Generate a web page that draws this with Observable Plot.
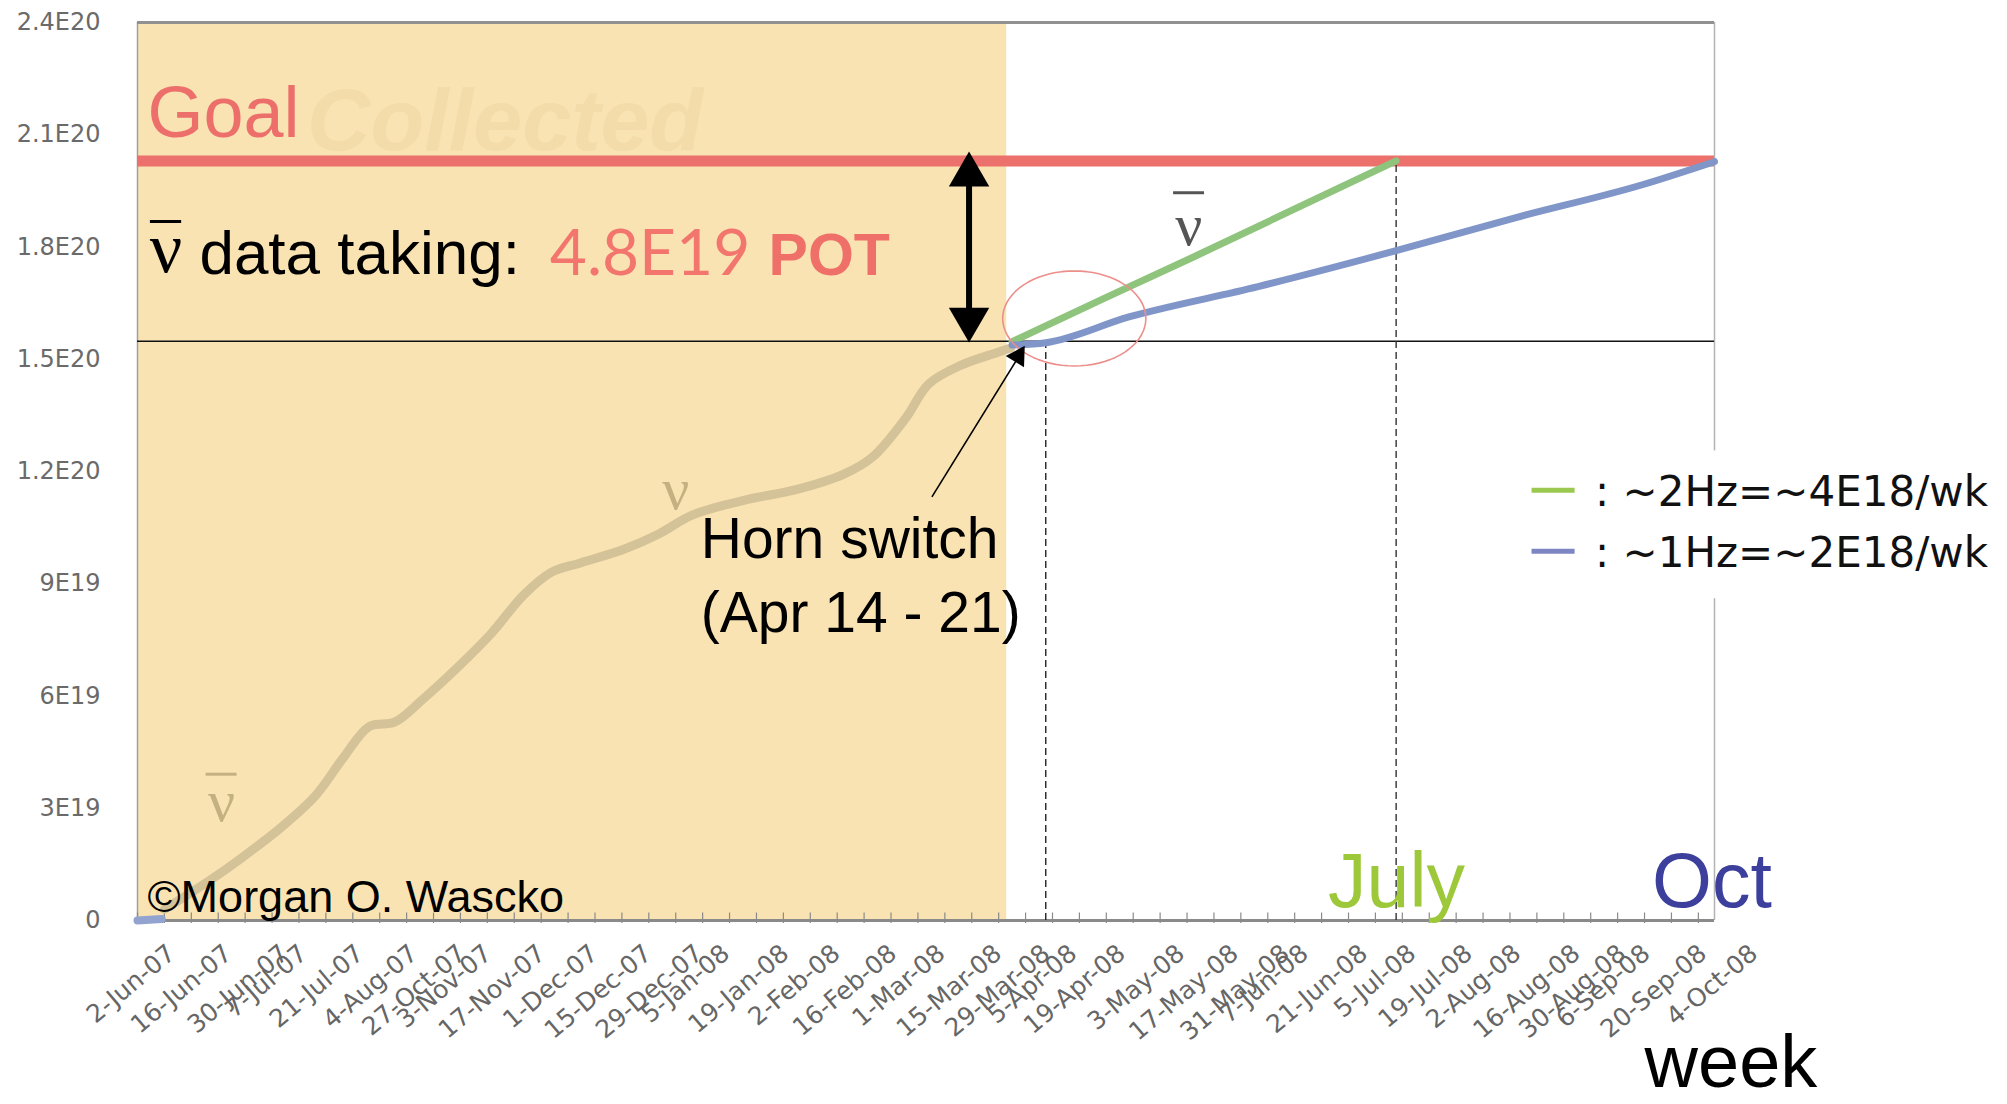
<!DOCTYPE html>
<html>
<head>
<meta charset="utf-8">
<script src="https://cdn.jsdelivr.net/npm/d3@7"></script>
<script src="https://cdn.jsdelivr.net/npm/@observablehq/plot@0.6"></script>
<style>
  html, body { margin: 0; padding: 0; background: #ffffff; }
  #chart svg { display: block; }
</style>
</head>
<body>
<div id="chart"></div>
<script>
// ---------------- Data (POT in units of 1E20, x = running week index) ----------------
const yTickValues = [0, 0.3, 0.6, 0.9, 1.2, 1.5, 1.8, 2.1, 2.4];
const yTickLabels = ["0", "3E19", "6E19", "9E19", "1.2E20", "1.5E20", "1.8E20", "2.1E20", "2.4E20"];

const xTickWeeks = [0, 2.1, 4.2, 4.9, 7.0, 9.0, 10.8, 11.75, 13.75, 15.7, 17.7, 19.6, 20.6, 22.8, 24.7, 26.8,
  28.6, 30.7, 32.5, 33.5, 35.3, 37.5, 39.5, 41.4, 42.1, 44.3, 46.1, 48.2, 50.0, 52.2, 53.9, 54.8, 56.9, 58.8];
const xTickLabels = ["2-Jun-07", "16-Jun-07", "30-Jun-07", "7-Jul-07", "21-Jul-07", "4-Aug-07", "27-Oct-07",
  "3-Nov-07", "17-Nov-07", "1-Dec-07", "15-Dec-07", "29-Dec-07", "5-Jan-08", "19-Jan-08", "2-Feb-08",
  "16-Feb-08", "1-Mar-08", "15-Mar-08", "29-Mar-08", "5-Apr-08", "19-Apr-08", "3-May-08", "17-May-08",
  "31-May-08", "7-Jun-08", "21-Jun-08", "5-Jul-08", "19-Jul-08", "2-Aug-08", "16-Aug-08", "30-Aug-08",
  "6-Sep-08", "20-Sep-08", "4-Oct-08"];
const minorWeeks = d3.range(0, 59);

// collected neutrino-mode POT (cumulative)
const nuWeek = [1.0, 2.68, 3.9, 5.39, 6.62, 7.66, 8.62, 9.55, 10.6, 11.86, 13.12, 14.35, 15.39, 16.43,
  18.1, 19.37, 20.63, 22.71, 24.39, 26.25, 27.32, 28.55, 29.4, 30.63, 31.9, 32.45];
const nuPOT = [0.03, 0.107, 0.169, 0.252, 0.334, 0.436, 0.519, 0.530, 0.591, 0.674, 0.765, 0.870, 0.931,
  0.955, 0.993, 1.033, 1.084, 1.126, 1.150, 1.193, 1.239, 1.343, 1.434, 1.485, 1.517, 1.53];

// early antineutrino bit
const antiStartWeek = [0, 0.9];
const antiStartPOT = [0.0, 0.004];

// projections
const greenWeek = [32.5, 35.9, 39.26, 46.77];
const greenPOT = [1.547, 1.662, 1.774, 2.03];
const blueWeek = [32.5, 33.75, 36.84, 41.64, 46.77, 51.19, 55.95, 58.6];
const bluePOT = [1.538, 1.544, 1.613, 1.694, 1.790, 1.878, 1.967, 2.028];

const goalPOT = 2.03;
const collectedPOT = 1.548;
const collectedEndWeek = 32.3;
const switchWeek = 33.75;
const julyWeek = 46.77;
const arrowWeek = 30.9;

const legendItems = [": ~2Hz=~4E18/wk", ": ~1Hz=~2E18/wk"];
const legendColors = ["#9bc84e", "#7d86c2"];

// ---------------- Build ----------------
const xMax = 58.6, yMax = 2.4;
const pts = (xs, ys) => xs.map((x, i) => ({x, y: ys[i]}));
const xTicks = xTickLabels.map((label, i) => ({week: xTickWeeks[i], label}));
const ellipse = d3.range(0, 361, 5).map(a => ({
  x: 34.81 + 2.66 * Math.cos(a * Math.PI / 180),
  y: 1.609 + 0.127 * Math.sin(a * Math.PI / 180)
}));
const SANS = "'Liberation Sans', Arial, Helvetica, sans-serif";
const WIDE = "'DejaVu Sans', 'Liberation Sans', sans-serif";
const SERIF = "'Liberation Serif', 'Times New Roman', serif";
const T = (s, o) => Plot.text([s], {text: d => d, ...o});
// nu-bar glyph: nu letter plus an overbar
const nuBar = (x, y, x1, x2, yb, size, color) => [
  T("\u03BD", {x, y, textAnchor: "middle", lineAnchor: "bottom", fontSize: size, fontFamily: SERIF, fill: color}),
  Plot.ruleY([yb], {x1, x2, stroke: color, strokeWidth: 3})
];

const chart = Plot.plot({
  width: 2007,
  height: 1104,
  marginLeft: 137,
  marginRight: 293,
  marginTop: 22,
  marginBottom: 184,
  x: {domain: [0, xMax], axis: null},
  y: {domain: [0, yMax], axis: null},
  style: {fontFamily: SANS, background: "#ffffff", overflow: "visible"},
  marks: [
    Plot.rect([0], {x1: 0, x2: collectedEndWeek, y1: 0, y2: yMax, fill: "#f9e3b2"}),
    T("Collected", {x: 6.3, y: 2.06, textAnchor: "start", lineAnchor: "bottom", fontSize: 88,
      fontWeight: "bold", fontStyle: "italic", fill: "#f3dbaa"}),

    // frame
    Plot.ruleX([0], {stroke: "#a0a0a0", strokeWidth: 1.5}),
    Plot.ruleX([xMax], {stroke: "#b3b3b3", strokeWidth: 1.5}),
    Plot.ruleY([yMax], {stroke: "#919191", strokeWidth: 3}),
    Plot.ruleY([0], {stroke: "#8a8a8a", strokeWidth: 3}),
    Plot.ruleX(minorWeeks, {x: d => d, y1: -0.008, y2: 0.02, stroke: "#8a8a8a", strokeWidth: 1.2}),

    // axes
    Plot.axisY(yTickValues, {anchor: "left", label: null, tickSize: 0, tickPadding: 37, fontSize: 24,
      fontFamily: WIDE, fill: "#6a6a6a", tickFormat: d => yTickLabels[yTickValues.indexOf(d)]}),
    Plot.text(xTicks, {x: "week", y: 0, text: "label", rotate: -40, textAnchor: "end", lineAnchor: "top",
      dx: 28, dy: 22, fontSize: 25, fontFamily: WIDE, fill: "#666666"}),

    // reference lines
    Plot.ruleY([goalPOT], {stroke: "#ec706b", strokeWidth: 11}),
    Plot.ruleY([collectedPOT], {stroke: "#111111", strokeWidth: 1.6}),
    Plot.ruleX([switchWeek], {y1: 0, y2: collectedPOT, stroke: "#222", strokeWidth: 1.4, strokeDasharray: "7,4"}),
    Plot.ruleX([julyWeek], {y1: 0, y2: goalPOT, stroke: "#333", strokeWidth: 1.4, strokeDasharray: "7,4"}),

    // curves
    Plot.line(pts(antiStartWeek, antiStartPOT), {x: "x", y: "y", stroke: "#93a3cf", strokeWidth: 8}),
    Plot.line(pts(nuWeek, nuPOT), {x: "x", y: "y", stroke: "#d4c298", strokeWidth: 9, curve: "catmull-rom"}),
    Plot.line(pts(greenWeek, greenPOT), {x: "x", y: "y", stroke: "#8fc47c", strokeWidth: 7}),
    Plot.line(pts(blueWeek, bluePOT), {x: "x", y: "y", stroke: "#8096c9", strokeWidth: 7, curve: "monotone-x"}),

    // red circle
    Plot.line(ellipse, {x: "x", y: "y", stroke: "#ec8f8b", strokeWidth: 1.6}),

    // double arrow
    Plot.ruleX([arrowWeek], {y1: goalPOT, y2: collectedPOT, stroke: "#000", strokeWidth: 6, insetTop: 22, insetBottom: 24}),
    Plot.dot([arrowWeek], {x: d => d, y: goalPOT, symbol: "triangle", r: 15, fill: "#000", stroke: null, dy: 14}),
    Plot.dot([arrowWeek], {x: d => d, y: collectedPOT, symbol: "triangle", r: 15, fill: "#000", stroke: null, rotate: 180, dy: -22}),

    // horn switch arrow
    Plot.link([0], {x1: 29.52, y1: 1.132, x2: 32.9, y2: 1.525, stroke: "#000", strokeWidth: 1.6}),
    Plot.dot([0], {x: 32.97, y: 1.536, symbol: "triangle", r: 8, fill: "#000", stroke: null, rotate: 32, dx: -6.6, dy: 10.6}),

    // text annotations
    T("Goal", {x: 0.37, y: 2.095, textAnchor: "start", lineAnchor: "bottom", fontSize: 72, fill: "#ec6f6b"}),
    ...nuBar(1.06, 1.734, 0.48, 1.64, 1.868, 72, "#000000"),
    T("data taking:", {x: 2.3, y: 1.728, textAnchor: "start", lineAnchor: "bottom", fontSize: 62, fill: "#000"}),
    T("4.8E19", {x: 15.32, y: 1.726, textAnchor: "start", lineAnchor: "bottom", fontSize: 64,
      fontFamily: "Lato, 'Open Sans', sans-serif", fill: "#f2766e"}),
    T("POT", {x: 23.45, y: 1.726, textAnchor: "start", lineAnchor: "bottom", fontSize: 59,
      fontWeight: "bold", fill: "#ef7068"}),
    ...nuBar(3.12, 0.265, 2.55, 3.7, 0.391, 60, "#c4b181"),
    T("\u03BD", {x: 20.0, y: 1.150, textAnchor: "middle", lineAnchor: "middle", fontSize: 60,
      fontFamily: SERIF, fill: "#c4b181"}),
    ...nuBar(39.07, 1.805, 38.5, 39.65, 1.945, 60, "#555555"),
    T("Horn switch\n(Apr 14 - 21)", {x: 20.93, y: 0.771, textAnchor: "start", lineAnchor: "bottom",
      lineHeight: 1.3, fontSize: 57, fill: "#000"}),
    T("\u00A9Morgan O. Wascko", {x: 0.37, y: 0.024, textAnchor: "start", lineAnchor: "bottom", fontSize: 45, fill: "#000"}),
    T("July", {x: 44.24, y: 0.037, textAnchor: "start", lineAnchor: "bottom", fontSize: 77, fill: "#9cc83a"}),
    T("Oct", {x: 56.28, y: 0.037, textAnchor: "start", lineAnchor: "bottom", fontSize: 77, fill: "#3c409c"}),
    T("week", {x: 56.0, y: -0.444, textAnchor: "start", lineAnchor: "bottom", fontSize: 74, fill: "#000"}),

    // legend
    Plot.rect([0], {x1: 50.9, x2: 69.5, y1: 0.86, y2: 1.255, fill: "#ffffff"}),
    Plot.ruleY([1.150], {x1: 51.82, x2: 53.42, stroke: legendColors[0], strokeWidth: 5}),
    Plot.ruleY([0.987], {x1: 51.82, x2: 53.42, stroke: legendColors[1], strokeWidth: 5}),
    T(legendItems[0], {x: 54.16, y: 1.108, textAnchor: "start", lineAnchor: "bottom", fontSize: 42,
      fontFamily: WIDE, fill: "#111"}),
    T(legendItems[1], {x: 54.16, y: 0.944, textAnchor: "start", lineAnchor: "bottom", fontSize: 42,
      fontFamily: WIDE, fill: "#111"})
  ]
});
document.getElementById("chart").appendChild(chart);
</script>
</body>
</html>
